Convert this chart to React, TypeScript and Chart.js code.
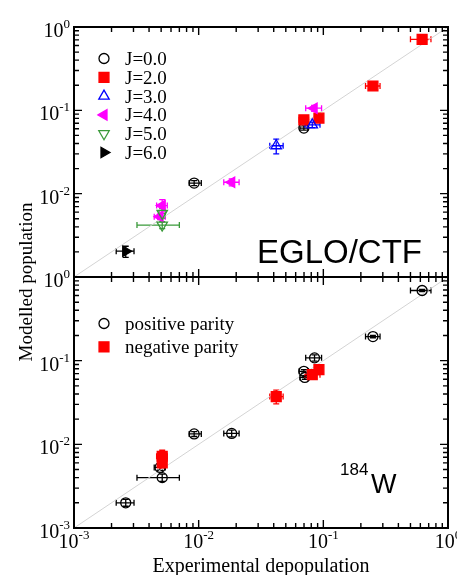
import React, { useEffect, useRef } from "react";
import { Chart, registerables } from "chart.js";
Chart.register(...registerables);

const W = 457;
const H = 575;
const SERIF = '"Liberation Serif", "Times New Roman", serif';
const SANS = '"Liberation Sans", Arial, sans-serif';

// ---- axis ticks / labels ----
const decadeValues = [0.001, 0.01, 0.1, 1];
const xTickExponents = ["-3", "-2", "-1", "0"];
const topYTickExponents = ["0", "-2", "-1", "0"]; // as printed in the top panel
const bottomYTickExponents = ["-3", "-2", "-1", ""]; // top label shared with upper panel
const minorMultipliers = [2, 3, 4, 5, 6, 7, 8, 9];

// ---- top panel: EGLO/CTF, by spin J ----
const j0X = [0.0092, 0.0698];
const j0Y = [0.0134, 0.0612];
const j0XErr = [[0.0084, 0.0105], [0.065, 0.075]];
const j0YErr = [[0.0125, 0.0143], [0.058, 0.065]];

const j2X = [0.62, 0.25, 0.0698, 0.0922];
const j2Y = [0.711, 0.196, 0.0769, 0.0806];
const j2XErr = [[0.5, 0.73], [0.218, 0.285], [0.064, 0.076], [0.088, 0.097]];
const j2YErr = [[0.69, 0.73], [0.19, 0.2], [0.074, 0.08], [0.078, 0.083]];

const j3X = [0.0815, 0.0419];
const j3Y = [0.067, 0.0376];
const j3XErr = [[0.0712, 0.094], [0.0372, 0.0476]];
const j3YErr = [[0.062, 0.072], [0.0301, 0.0452]];

const j4X = [0.0843, 0.0184, 0.0051, 0.0049];
const j4Y = [0.106, 0.0137, 0.0072, 0.0053];
const j4XErr = [[0.0722, 0.0968], [0.0159, 0.0211], [0.0046, 0.0056], [0.0044, 0.0054]];
const j4YErr = [[0.097, 0.115], [0.0124, 0.015], [0.0062, 0.0085], [0.0049, 0.0057]];

const j5X = [0.0051, 0.0051];
const j5Y = [0.0058, 0.0042];
const j5XErr = [[0.0048, 0.0054], [0.0032, 0.007]];
const j5YErr = [[0.0051, 0.0066], [0.0038, 0.0046]];

const j6X = [0.0026];
const j6Y = [0.00204];
const j6XErr = [[0.00218, 0.00303]];
const j6YErr = [[0.00172, 0.00234]];

// ---- bottom panel: 184W, by parity ----
const posX = [0.62, 0.25, 0.085, 0.0698, 0.071, 0.0184, 0.0092, 0.0049, 0.0051, 0.0026];
const posY = [0.69, 0.194, 0.108, 0.0745, 0.063, 0.0135, 0.0133, 0.0053, 0.004, 0.002];
const posXErr = [[0.5, 0.73], [0.218, 0.285], [0.0722, 0.0968], [0.064, 0.076], [0.065, 0.075], [0.0159, 0.0211], [0.0084, 0.0105], [0.0044, 0.0054], [0.0032, 0.007], [0.00218, 0.00303]];
const posYErr = [[0.67, 0.71], [0.188, 0.2], [0.099, 0.117], [0.071, 0.078], [0.06, 0.066], [0.0123, 0.0148], [0.0124, 0.0142], [0.0049, 0.0057], [0.0036, 0.0044], [0.00182, 0.0022]];

const negX = [0.0922, 0.0815, 0.0419, 0.0051, 0.0051];
const negY = [0.078, 0.068, 0.0372, 0.0072, 0.006];
const negXErr = [[0.088, 0.097], [0.0712, 0.094], [0.0372, 0.0476], [0.0046, 0.0056], [0.0048, 0.0054]];
const negYErr = [[0.075, 0.081], [0.063, 0.073], [0.0305, 0.0445], [0.0062, 0.0085], [0.0052, 0.0068]];

const diagonal = [0.001, 1];

const topLegend = ["J=0.0", "J=2.0", "J=3.0", "J=4.0", "J=5.0", "J=6.0"];
const bottomLegend = ["positive parity", "negative parity"];

const RED = "#ff0000";
const BLUE = "#0000ff";
const MAGENTA = "#ff00ff";
const GREEN = "#3a9a3a";
const BLACK = "#000000";

type Pt = { x: number; y: number; xMin: number; xMax: number; yMin: number; yMax: number };
function pts(x: number[], y: number[], xe: number[][], ye: number[][]): Pt[] {
  return x.map((v, i) => ({ x: v, y: y[i], xMin: xe[i][0], xMax: xe[i][1], yMin: ye[i][0], yMax: ye[i][1] }));
}

type Sym = { style: string; rot: number; fill: boolean; color: string; r: number };
const SYM_J0: Sym = { style: "circle", rot: 0, fill: false, color: BLACK, r: 5 };
const SYM_J2: Sym = { style: "rect", rot: 0, fill: true, color: RED, r: 7 };
const SYM_J3: Sym = { style: "triangle", rot: 0, fill: false, color: BLUE, r: 6 };
const SYM_J4: Sym = { style: "triangle", rot: -90, fill: true, color: MAGENTA, r: 6 };
const SYM_J5: Sym = { style: "triangle", rot: 180, fill: false, color: GREEN, r: 6 };
const SYM_J6: Sym = { style: "triangle", rot: 90, fill: true, color: BLACK, r: 6 };

function scatterSet(label: string, data: Pt[], s: Sym, order: number) {
  return {
    label,
    data,
    pointStyle: s.style,
    rotation: s.rot,
    pointRadius: s.r,
    pointHoverRadius: s.r,
    backgroundColor: s.fill ? s.color : "rgba(0,0,0,0)",
    borderColor: s.color,
    borderWidth: 1.3,
    showLine: false,
    order,
    errColor: s.color,
  } as any;
}

function diagSet() {
  return {
    label: "y=x",
    data: diagonal.map((v) => ({ x: v, y: v })),
    showLine: true,
    borderColor: "#d4d4d4",
    borderWidth: 1,
    pointRadius: 0,
    order: 20,
  } as any;
}

const errorBarPlugin = {
  id: "errbars",
  beforeDatasetsDraw(chart: any) {
    const ctx = chart.ctx;
    const xs = chart.scales.x;
    const ys = chart.scales.y;
    ctx.save();
    ctx.lineWidth = 1.3;
    chart.data.datasets.forEach((ds: any) => {
      if (!ds.errColor) return;
      ctx.strokeStyle = ds.errColor;
      ds.data.forEach((p: Pt) => {
        const px = xs.getPixelForValue(p.x);
        const py = ys.getPixelForValue(p.y);
        const x0 = xs.getPixelForValue(p.xMin);
        const x1 = xs.getPixelForValue(p.xMax);
        const y0 = ys.getPixelForValue(p.yMin);
        const y1 = ys.getPixelForValue(p.yMax);
        const c = 3;
        ctx.beginPath();
        ctx.moveTo(x0, py); ctx.lineTo(x1, py);
        ctx.moveTo(x0, py - c); ctx.lineTo(x0, py + c);
        ctx.moveTo(x1, py - c); ctx.lineTo(x1, py + c);
        ctx.moveTo(px, y0); ctx.lineTo(px, y1);
        ctx.moveTo(px - c, y0); ctx.lineTo(px + c, y0);
        ctx.moveTo(px - c, y1); ctx.lineTo(px + c, y1);
        ctx.stroke();
      });
    });
    ctx.restore();
  },
};

function drawSymbol(ctx: CanvasRenderingContext2D, s: Sym, x: number, y: number) {
  ctx.save();
  ctx.strokeStyle = s.color;
  ctx.fillStyle = s.color;
  ctx.lineWidth = 1.3;
  ctx.beginPath();
  if (s.style === "circle") {
    ctx.arc(x, y, s.r, 0, Math.PI * 2);
  } else if (s.style === "rect") {
    const h = Math.SQRT1_2 * s.r;
    ctx.rect(x - h, y - h, 2 * h, 2 * h);
  } else {
    let rad = (s.rot * Math.PI) / 180;
    for (let k = 0; k < 3; k++) {
      const px = x + Math.sin(rad) * s.r;
      const py = y - Math.cos(rad) * s.r;
      if (k === 0) ctx.moveTo(px, py); else ctx.lineTo(px, py);
      rad += (2 * Math.PI) / 3;
    }
    ctx.closePath();
  }
  if (s.fill) ctx.fill();
  ctx.stroke();
  ctx.restore();
}

function drawPow(ctx: CanvasRenderingContext2D, exp: string, x: number, baseline: number, align: "center" | "right") {
  ctx.save();
  ctx.fillStyle = BLACK;
  ctx.textAlign = "left";
  ctx.textBaseline = "alphabetic";
  ctx.font = `20px ${SERIF}`;
  const tw = ctx.measureText("10").width;
  ctx.font = `13px ${SERIF}`;
  const sw = ctx.measureText(exp).width;
  const start = align === "center" ? x - (tw + sw) / 2 : x - tw - sw;
  ctx.font = `20px ${SERIF}`;
  ctx.fillText("10", start, baseline);
  ctx.font = `13px ${SERIF}`;
  ctx.fillText(exp, start + tw, baseline - 9);
  ctx.restore();
}

function axesPlugin(panel: "top" | "bottom") {
  return {
    id: "axes-" + panel,
    afterDraw(chart: any) {
      const ctx: CanvasRenderingContext2D = chart.ctx;
      const xs = chart.scales.x;
      const ys = chart.scales.y;
      const a = chart.chartArea;
      ctx.save();
      // ticks (inside, all four sides)
      ctx.strokeStyle = BLACK;
      ctx.lineWidth = 1.4;
      ctx.beginPath();
      const vals: { v: number; major: boolean }[] = [];
      decadeValues.forEach((d, i) => {
        vals.push({ v: d, major: true });
        if (i < decadeValues.length - 1) minorMultipliers.forEach((m) => vals.push({ v: d * m, major: false }));
      });
      vals.forEach(({ v, major }) => {
        const len = major ? 8 : 5;
        const px = xs.getPixelForValue(v);
        ctx.moveTo(px, a.bottom); ctx.lineTo(px, a.bottom - len);
        ctx.moveTo(px, a.top); ctx.lineTo(px, a.top + len);
        const py = ys.getPixelForValue(v);
        ctx.moveTo(a.left, py); ctx.lineTo(a.left + len, py);
        ctx.moveTo(a.right, py); ctx.lineTo(a.right - len, py);
      });
      ctx.stroke();
      // frame
      ctx.lineWidth = 2;
      ctx.strokeRect(a.left, a.top, a.right - a.left, a.bottom - a.top);

      // y tick labels
      const yExp = panel === "top" ? topYTickExponents : bottomYTickExponents;
      decadeValues.forEach((v, i) => {
        if (!yExp[i]) return;
        const py = ys.getPixelForValue(v);
        drawPow(ctx, yExp[i], 70, py + 10, "right");
      });

      if (panel === "top") {
        // legend
        const syms = [SYM_J0, SYM_J2, SYM_J3, SYM_J4, SYM_J5, SYM_J6];
        ctx.font = `19px ${SERIF}`;
        ctx.fillStyle = BLACK;
        ctx.textBaseline = "alphabetic";
        topLegend.forEach((t, i) => {
          const y = 58.5 + i * 18.8;
          drawSymbol(ctx, { ...syms[i], r: syms[i].style === "rect" ? 7 : syms[i].r }, 104, y);
          ctx.fillStyle = BLACK;
          ctx.fillText(t, 125, y + 6.5);
        });
        ctx.font = `33px ${SANS}`;
        ctx.fillStyle = BLACK;
        ctx.fillText("EGLO/CTF", 257, 263);
      } else {
        // legend
        const syms = [SYM_J0, { ...SYM_J2 }];
        ctx.font = `19px ${SERIF}`;
        bottomLegend.forEach((t, i) => {
          const y = 323.5 + i * 23.3;
          drawSymbol(ctx, syms[i], 104, y);
          ctx.fillStyle = BLACK;
          ctx.fillText(t, 125, y + 6.5);
        });
        // x tick labels
        decadeValues.forEach((v, i) => {
          const px = xs.getPixelForValue(v);
          drawPow(ctx, xTickExponents[i], px, 548, "center");
        });
        // axis titles
        ctx.fillStyle = BLACK;
        ctx.font = `20px ${SERIF}`;
        ctx.textAlign = "center";
        ctx.fillText("Experimental depopulation", (a.left + a.right) / 2, 572);
        ctx.save();
        ctx.translate(32, 282);
        ctx.rotate(-Math.PI / 2);
        ctx.font = `19px ${SERIF}`;
        ctx.fillText("Modelled population", 0, 0);
        ctx.restore();
        // nucleus label
        ctx.textAlign = "left";
        ctx.font = `17px ${SANS}`;
        ctx.fillText("184", 340, 475);
        ctx.font = `27px ${SANS}`;
        ctx.fillText("W", 371, 493);
      }
      ctx.restore();
    },
  };
}

function baseOptions(padding: any) {
  return {
    responsive: false,
    animation: false,
    devicePixelRatio: 1,
    layout: { padding },
    plugins: { legend: { display: false }, tooltip: { enabled: false } },
    events: [],
    scales: {
      x: { type: "logarithmic", min: 0.001, max: 1, display: false },
      y: { type: "logarithmic", min: 0.001, max: 1, display: false },
    },
  } as any;
}

export default function App() {
  const topRef = useRef<HTMLCanvasElement | null>(null);
  const botRef = useRef<HTMLCanvasElement | null>(null);

  useEffect(() => {
    const top = new Chart(topRef.current as HTMLCanvasElement, {
      type: "scatter",
      data: {
        datasets: [
          diagSet(),
          scatterSet("J=0.0", pts(j0X, j0Y, j0XErr, j0YErr), SYM_J0, 6),
          scatterSet("J=2.0", pts(j2X, j2Y, j2XErr, j2YErr), SYM_J2, 5),
          scatterSet("J=3.0", pts(j3X, j3Y, j3XErr, j3YErr), SYM_J3, 4),
          scatterSet("J=4.0", pts(j4X, j4Y, j4XErr, j4YErr), SYM_J4, 3),
          scatterSet("J=5.0", pts(j5X, j5Y, j5XErr, j5YErr), SYM_J5, 2),
          scatterSet("J=6.0", pts(j6X, j6Y, j6XErr, j6YErr), SYM_J6, 1),
        ],
      },
      options: baseOptions({ left: 74, right: W - 448, top: 27, bottom: H - 277 }),
      plugins: [errorBarPlugin, axesPlugin("top")],
    } as any);

    const bottom = new Chart(botRef.current as HTMLCanvasElement, {
      type: "scatter",
      data: {
        datasets: [
          diagSet(),
          scatterSet("positive parity", pts(posX, posY, posXErr, posYErr), SYM_J0, 2),
          scatterSet("negative parity", pts(negX, negY, negXErr, negYErr), SYM_J2, 1),
        ],
      },
      options: baseOptions({ left: 74, right: W - 448, top: 277, bottom: H - 528 }),
      plugins: [errorBarPlugin, axesPlugin("bottom")],
    } as any);

    return () => {
      top.destroy();
      bottom.destroy();
    };
  }, []);

  const cs: React.CSSProperties = { position: "absolute", left: 0, top: 0, width: W, height: H, display: "block" };
  return (
    <div style={{ position: "absolute", left: 0, top: 0, width: W, height: H, background: "#fff" }}>
      <canvas ref={botRef} width={W} height={H} style={cs} />
      <canvas ref={topRef} width={W} height={H} style={cs} />
    </div>
  );
}
